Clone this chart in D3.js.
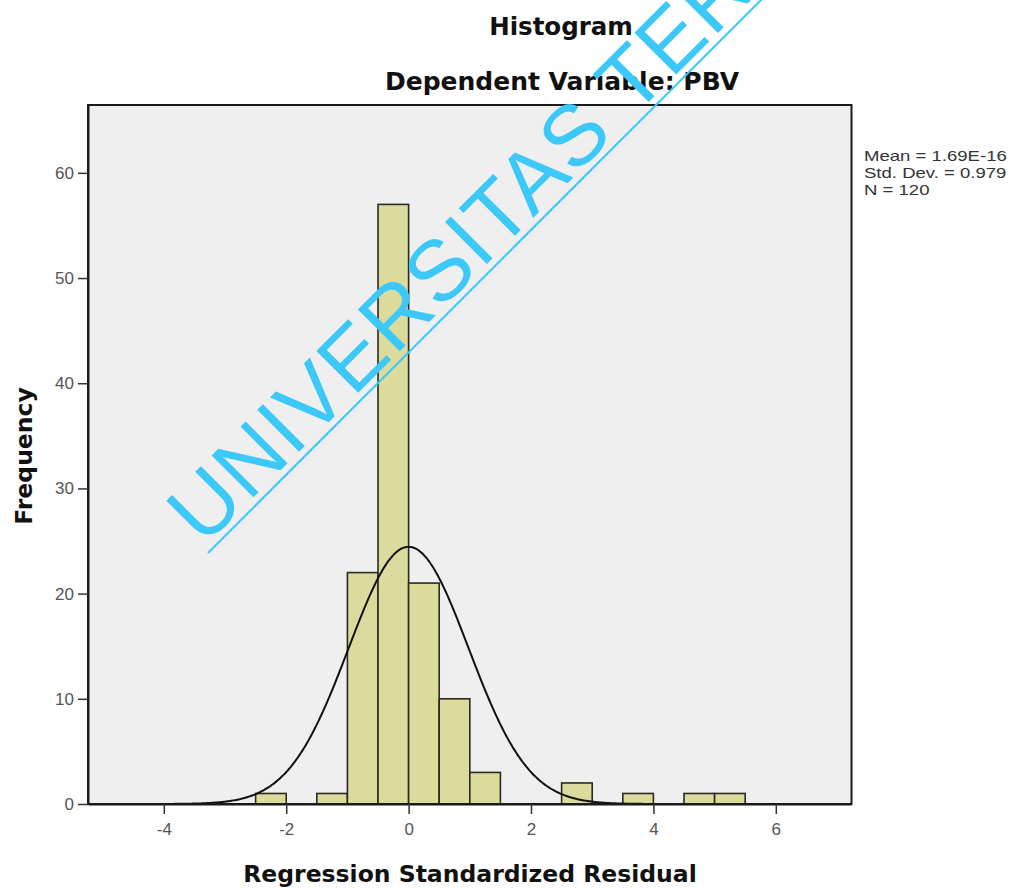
<!DOCTYPE html>
<html>
<head>
<meta charset="utf-8">
<script src="https://cdn.jsdelivr.net/npm/d3@7"></script>
<style>
  html, body { margin: 0; padding: 0; background: #ffffff; }
  svg { display: block; overflow: hidden; }
</style>
</head>
<body>
<svg id="chart" width="1019" height="888"></svg>
<script>
// Histogram of regression standardized residuals (bin width 0.5)
const binStarts = [-2.5, -1.5, -1.0, -0.5, 0.0, 0.5, 1.0, 2.5, 3.5, 4.5, 5.0];
const binCounts = [1, 1, 22, 57, 21, 10, 3, 2, 1, 1, 1];
const binWidth = 0.5;

const xTicks = [-4, -2, 0, 2, 4, 6];
const yTicks = [0, 10, 20, 30, 40, 50, 60];

const statsLines = ["Mean = 1.69E-16", "Std. Dev. = 0.979", "N = 120"];
const meanValue = 1.69e-16;
const sdValue = 0.979;
const nValue = 120;

const svg = d3.select("#chart");

const plot = { left: 88, right: 851.5, top: 105, bottom: 804 };

const x = d3.scaleLinear().domain([-5.239, 7.237]).range([plot.left, plot.right]);
const y = d3.scaleLinear().domain([0, 66.45]).range([plot.bottom, plot.top]);

// plot background
svg.append("rect")
  .attr("x", plot.left).attr("y", plot.top)
  .attr("width", plot.right - plot.left).attr("height", plot.bottom - plot.top)
  .attr("fill", "#efefef");

// bars
svg.append("g").selectAll("rect")
  .data(binStarts.map((s, i) => ({ s, c: binCounts[i] })))
  .join("rect")
  .attr("x", d => x(d.s))
  .attr("y", d => y(d.c))
  .attr("width", d => x(d.s + binWidth) - x(d.s))
  .attr("height", d => y(0) - y(d.c))
  .attr("fill", "#dadb9c")
  .attr("stroke", "#2a2a22")
  .attr("stroke-width", 1.6);

// normal curve scaled to counts
const normal = v => nValue * binWidth / (sdValue * Math.sqrt(2 * Math.PI)) *
  Math.exp(-0.5 * Math.pow((v - meanValue) / sdValue, 2));
const curvePts = d3.range(-5.239, 7.237, 0.02).map(v => [v, normal(v)]);
svg.append("path")
  .datum(curvePts)
  .attr("fill", "none")
  .attr("stroke", "#111")
  .attr("stroke-width", 2)
  .attr("d", d3.line().x(d => x(d[0])).y(d => y(d[1])).curve(d3.curveBasis));

// frame
svg.append("rect")
  .attr("x", plot.left).attr("y", plot.top)
  .attr("width", plot.right - plot.left).attr("height", plot.bottom - plot.top)
  .attr("fill", "none")
  .attr("stroke", "#1a1a1a")
  .attr("stroke-width", 2);

// axes (plain hyphen for negative labels)
const fmt = d => String(d);
const xAxis = svg.append("g")
  .attr("transform", `translate(0,${plot.bottom})`)
  .call(d3.axisBottom(x).tickValues(xTicks).tickSize(10).tickSizeOuter(0).tickPadding(6).tickFormat(fmt));
const yAxis = svg.append("g")
  .attr("transform", `translate(${plot.left},0)`)
  .call(d3.axisLeft(y).tickValues(yTicks).tickSize(10).tickSizeOuter(0).tickPadding(4).tickFormat(fmt));

[xAxis, yAxis].forEach(g => {
  g.select(".domain").attr("stroke", "#1a1a1a").attr("stroke-width", 2);
  g.selectAll(".tick line").attr("stroke", "#333").attr("stroke-width", 1.5);
  g.selectAll(".tick text")
    .attr("fill", "#555")
    .style("font-family", "'Liberation Sans', Arial, sans-serif")
    .style("font-size", "17px");
});
xAxis.selectAll(".tick text").attr("dy", "0.9em");

// titles
const boldFont = "'DejaVu Sans', Verdana, sans-serif";
svg.append("text")
  .attr("x", 561).attr("y", 35)
  .attr("text-anchor", "middle")
  .style("font-family", boldFont).style("font-weight", "bold").style("font-size", "24.5px")
  .attr("fill", "#111")
  .text("Histogram");
svg.append("text")
  .attr("x", 562).attr("y", 90)
  .attr("text-anchor", "middle")
  .style("font-family", boldFont).style("font-weight", "bold").style("font-size", "25px")
  .attr("fill", "#111")
  .text("Dependent Variable: PBV");

svg.append("text")
  .attr("x", 470).attr("y", 882)
  .attr("text-anchor", "middle")
  .style("font-family", boldFont).style("font-weight", "bold").style("font-size", "23.5px")
  .attr("fill", "#111")
  .text("Regression Standardized Residual");

svg.append("text")
  .attr("transform", "translate(32,456) rotate(-90)")
  .attr("text-anchor", "middle")
  .style("font-family", boldFont).style("font-weight", "bold").style("font-size", "23.5px")
  .attr("fill", "#111")
  .text("Frequency");

// summary statistics, drawn compact and horizontally widened
svg.append("g").selectAll("text")
  .data(statsLines)
  .join("text")
  .attr("transform", (d, i) => `translate(864,${161 + i * 17}) scale(1.28,1)`)
  .style("font-family", "'Liberation Sans', Arial, sans-serif")
  .style("font-size", "14.5px")
  .attr("fill", "#333")
  .text(d => d);

// watermark
const wmColor = "#3cc8f8";
svg.append("line")
  .attr("x1", 208).attr("y1", 553)
  .attr("x2", 208 + 620).attr("y2", 553 - 620)
  .attr("stroke", wmColor)
  .attr("stroke-width", 2);
svg.append("text")
  .attr("transform", "translate(203.6,547.3) rotate(-45)")
  .style("font-family", "'Liberation Sans', Arial, sans-serif")
  .style("font-size", "86px")
  .attr("letter-spacing", "1.5px")
  .attr("fill", wmColor)
  .text("UNIVERSITAS TER");
</script>
</body>
</html>
